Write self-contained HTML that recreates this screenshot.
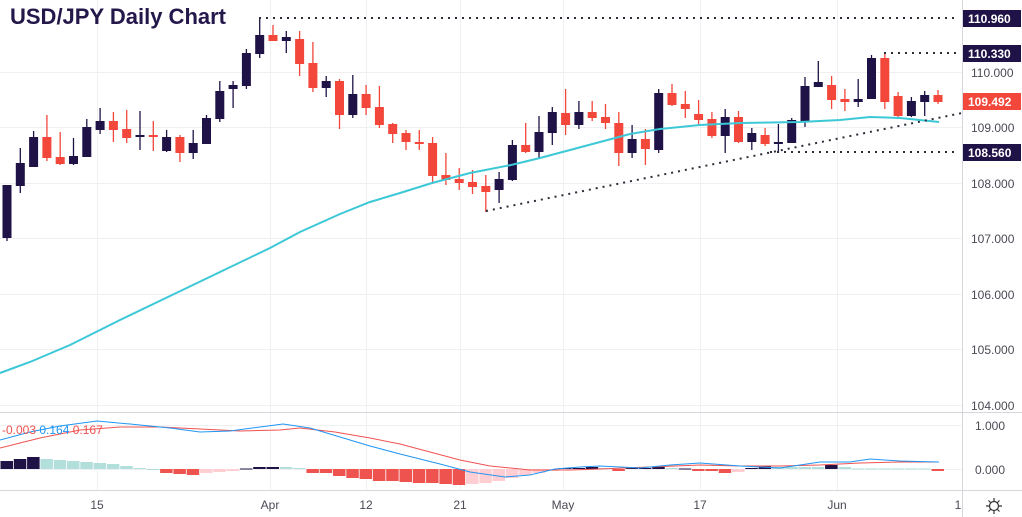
<!DOCTYPE html>
<html><head><meta charset="utf-8">
<style>
html,body{margin:0;padding:0;background:#fff;width:1022px;height:517px;overflow:hidden}
svg{display:block;font-family:"Liberation Sans",sans-serif}
</style></head><body>
<svg id="s" width="1022" height="517" viewBox="0 0 1022 517">
<g stroke="#f0f0f3" stroke-width="1">
<line x1="0" y1="72.5" x2="962" y2="72.5"/><line x1="0" y1="127.5" x2="962" y2="127.5"/>
<line x1="0" y1="183.5" x2="962" y2="183.5"/><line x1="0" y1="238.5" x2="962" y2="238.5"/>
<line x1="0" y1="294.5" x2="962" y2="294.5"/><line x1="0" y1="349.5" x2="962" y2="349.5"/>
<line x1="0" y1="405.5" x2="962" y2="405.5"/><line x1="0" y1="425.5" x2="962" y2="425.5"/>
<line x1="0" y1="469.5" x2="962" y2="469.5"/>
<line x1="97.5" y1="0" x2="97.5" y2="490"/><line x1="270.5" y1="0" x2="270.5" y2="490"/>
<line x1="366.5" y1="0" x2="366.5" y2="490"/><line x1="460.5" y1="0" x2="460.5" y2="490"/>
<line x1="563.5" y1="0" x2="563.5" y2="490"/><line x1="700.5" y1="0" x2="700.5" y2="490"/>
<line x1="837.5" y1="0" x2="837.5" y2="490"/>
</g>
<g stroke="#d6d6dc" stroke-width="1">
<line x1="0" y1="412.5" x2="1022" y2="412.5"/>
<line x1="0" y1="490.5" x2="1022" y2="490.5"/>
<line x1="962.5" y1="0" x2="962.5" y2="517"/>
</g>
<g id="hist"></g>
<g id="cand"></g>
<polyline fill="none" stroke="#3cc8d6" stroke-width="2" points="0,373 30,362 70,345 120,320 170,296 220,272 270,248 300,232 340,214 370,202 400,193 432,183 470,173 511,165 540,158 570,150 600,142 630,134 660,129 700,125 740,123 800,122 840,120 870,117 900,118 939,122"/>
<polyline fill="none" stroke="#ef5350" stroke-width="1" points="0,448 40,438 80,430 120,427 160,427 200,429 240,431 280,430 300,428 335,432 370,438 400,444 430,452 460,460 490,466 530,470 570,470 600,469 650,467 700,465 740,466 780,466 820,465 860,463 900,462 939,462"/>
<polyline fill="none" stroke="#2196f3" stroke-width="1" points="0,440 30,432 60,426 97,421 130,424 170,428 200,432 230,431 260,427 283,424 310,428 340,437 370,446 400,454 440,464 470,472 505,477 530,475 555,469 580,467 600,466 620,467 640,468 670,465 700,463 740,466 780,468 800,465 820,462 850,462 870,459 900,461 939,462"/>
<g stroke="#2a2e39" stroke-width="2" stroke-dasharray="2,5" fill="none">
<line x1="259" y1="18" x2="958" y2="18"/>
<line x1="884" y1="53" x2="958" y2="53"/>
<line x1="770" y1="152" x2="958" y2="152"/>
<line x1="486" y1="211" x2="962" y2="113"/>
</g>
<text x="10" y="24" font-size="22" font-weight="bold" fill="#24174a">USD/JPY Daily Chart</text>
<text x="2" y="434" font-size="12"><tspan fill="#ef5350">-0.003</tspan> <tspan fill="#2196f3">0.164</tspan> <tspan fill="#ef5350">0.167</tspan></text>
<g font-size="12" fill="#4a4a55">
<text x="971" y="77">110.000</text><text x="971" y="132">109.000</text>
<text x="971" y="188">108.000</text><text x="971" y="243">107.000</text>
<text x="971" y="299">106.000</text><text x="971" y="354">105.000</text>
<text x="971" y="410">104.000</text><text x="975" y="430">1.000</text>
<text x="975" y="474">0.000</text>
</g>
<g font-size="12" fill="#4a4a55" text-anchor="middle">
<text x="97" y="509">15</text><text x="270" y="509">Apr</text><text x="366" y="509">12</text>
<text x="460" y="509">21</text><text x="563" y="509">May</text><text x="700" y="509">17</text>
<text x="837" y="509">Jun</text><text x="958" y="509">1</text>
</g>
<g font-size="12" font-weight="bold" fill="#fff">
<rect x="963" y="10" width="58" height="17" fill="#1f1246"/><text x="968" y="23">110.960</text>
<rect x="963" y="45" width="58" height="17" fill="#1f1246"/><text x="968" y="58">110.330</text>
<rect x="963" y="93" width="58" height="17" fill="#f2473a"/><text x="968" y="106">109.492</text>
<rect x="963" y="144" width="58" height="17" fill="#1f1246"/><text x="968" y="157">108.560</text>
</g>
<g stroke="#333" fill="none" stroke-width="1.2">
<circle cx="994" cy="506" r="4.5"/>
<path d="M994 498v3M994 511v3M986 506h3M999 506h3M988.5 500.5l2 2M997.5 509.5l2 2M988.5 511.5l2-2M997.5 502.5l2-2"/>
</g>
</svg>
<script>
(function(){
var C=[[1,185,238,185,241],[1,163,186,148,193],[1,137,167,131,167],[0,137,158,115,161],[0,157,164,132,165],[1,156,164,138,165],[1,127,157,119,157],[1,121,130,108,134],[0,121,130,112,142],[0,129,138,110,143],
[1,135,137,111,150],[0,135,136,121,151],[1,137,151,130,152],[0,137,153,135,162],[1,143,153,130,159],[1,118,144,115,144],[1,91,119,81,122],[1,85,89,81,108],[1,53,86,49,89],[1,35,54,19,58],
[0,35,41,25,41],[1,37,41,31,53],[0,39,64,31,76],[0,63,88,42,92],[1,81,88,76,97],[0,81,115,79,129],[1,94,115,75,118],[0,94,108,85,115],[0,107,125,86,128],[0,124,134,123,143],
[0,133,142,130,150],[0,142,143,130,150],[0,143,176,137,184],[0,175,180,153,185],[0,179,183,168,190],[0,182,187,170,194],[0,186,192,175,212],[1,179,190,172,203],[1,145,180,140,181],[0,145,152,123,153],
[1,132,152,116,159],[1,112,133,107,145],[0,113,125,89,135],[1,112,125,101,129],[0,112,118,101,121],[0,117,123,104,129],[0,123,153,112,166],[1,139,153,125,158],[0,139,149,129,165],[1,93,150,89,153],
[0,93,105,84,106],[0,104,109,91,118],[0,114,120,100,125],[0,119,136,112,138],[1,117,136,109,153],[0,117,142,111,143],[1,133,142,128,150],[0,135,144,128,146],[1,142,143,124,153],[1,120,143,118,143],
[1,86,121,77,127],[1,82,87,61,87],[0,85,100,76,109],[0,99,102,89,111],[1,99,102,79,107],[1,58,99,55,99],[0,58,102,53,109],[0,96,116,92,117],[1,101,116,97,117],[1,95,102,91,116],[0,95,102,90,104]];
var H=[['d',461],['d',459],['d',457],['t',459],['t',460],['t',461],['t',462],['t',463],['t',464],['t',466],['t',468],['t',469],['r',473],['r',474],['r',475],['p',473],['p',472],['p',471],['d',468.5],['d',467],['d',467],['t',467],['t',468],['r',473],['r',473],['r',476],['r',478],['r',479],['r',481],['r',481],['r',482],['r',483],['r',483],['r',484],['r',485],['p',484],['p',483],['p',481],['p',478],['p',475],['p',473],['p',471],['d',468],['d',468],['d',467],['t',468],['r',471],['d',468],['d',468],['d',467],['t',468],['d',468.5],['r',471],['r',471],['r',473],['p',472],['d',468],['d',466],['t',467],['t',467],['t',467],['t',467],['d',465],['t',467],['t',468.5],['t',468.5],['t',468.5],['t',468.5],['t',468.5],['t',468.5],['r',471]];
var ns="http://www.w3.org/2000/svg",g=document.getElementById('cand'),hg=document.getElementById('hist');
function el(p,t,a){var e=document.createElementNS(ns,t);for(var k in a)e.setAttribute(k,a[k]);p.appendChild(e);}
var col={d:'#1f1246',t:'#b2dfdb',r:'#ef5350',p:'#ffcdd2'};
for(var i=0;i<H.length;i++){var x=7+13.3*i,yy=H[i][1],z=469;var ty=Math.min(yy,z),ht=Math.max(Math.abs(yy-z),1);
el(hg,'rect',{x:x-6.5,y:ty,width:12.5,height:ht,fill:col[H[i][0]]});}
for(var i=0;i<C.length;i++){var c=C[i],x=7+13.3*i,f=c[0]?'#1f1246':'#f2473a';
el(g,'line',{x1:x,x2:x,y1:c[3],y2:c[4],stroke:f,'stroke-width':1.3});
el(g,'rect',{x:x-4.5,y:c[1],width:9,height:Math.max(c[2]-c[1],2),fill:f});}
})();
</script>
</body></html>
